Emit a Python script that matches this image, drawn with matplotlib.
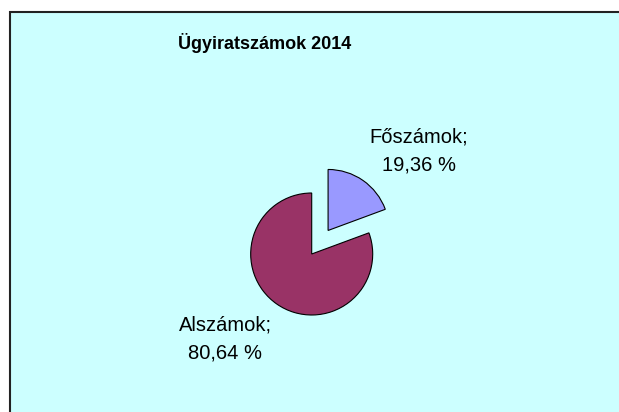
import matplotlib
matplotlib.use("agg")
import matplotlib.pyplot as plt
from matplotlib.patches import Rectangle

plt.rcParams['font.family'] = ['Liberation Sans', 'DejaVu Sans']

# data
title = "Ügyiratszámok 2014"
categories = ["Főszámok", "Alszámok"]
shares = [19.36, 80.64]
slice_colors = ["#9999FF", "#993366"]

W, H = 619, 412

fig = plt.figure(figsize=(W / 100, H / 100), dpi=100)
fig.patch.set_facecolor("#CCFFFF")
ax = fig.add_axes([0, 0, 1, 1])
ax.set_facecolor("none")

# white margin above and left of the chart area, border on left/top only
box_x, box_top = 9.5, H - 12
ax.add_patch(Rectangle((0, box_top), W, H - box_top, facecolor="white",
                       edgecolor="none", zorder=0))
ax.add_patch(Rectangle((0, 0), box_x, H, facecolor="white",
                       edgecolor="none", zorder=0))
ax.plot([box_x, box_x, W], [0, box_top, box_top], color="#222222",
        linewidth=1.5, zorder=0.5, solid_joinstyle="miter")

radius = 61
pie_center = (311.7, H - 254)
ax.pie(shares, startangle=90, counterclock=False,
       explode=[0.47 * radius, 0],
       center=pie_center, radius=radius,
       colors=slice_colors,
       wedgeprops=dict(edgecolor="black", linewidth=0.8))

ax.set_xlim(0, W)
ax.set_ylim(0, H)
ax.set_aspect("equal", adjustable="datalim")
ax.axis("off")

label_pos = [(419, H - 151), (225, H - 339)]
for name, val, pos in zip(categories, shares, label_pos):
    txt = "%s;\n%s %%" % (name, ("%.2f" % val).replace(".", ","))
    ax.text(pos[0], pos[1], txt, ha="center", va="center", fontsize=14.5,
            linespacing=1.55, color="black")

ax.text(265, H - 43, title, ha="center", va="center", fontsize=13,
        fontweight="bold")

plt.savefig("out.png", dpi=100, facecolor=fig.get_facecolor())
